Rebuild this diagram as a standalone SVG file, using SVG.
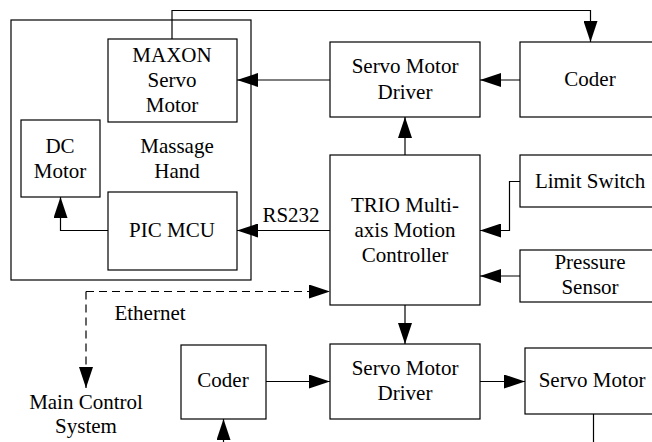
<svg xmlns="http://www.w3.org/2000/svg" width="652" height="442" viewBox="0 0 652 442">
<defs>
<marker id="ah" markerUnits="userSpaceOnUse" markerWidth="22" markerHeight="14" refX="21" refY="7" orient="auto">
<path d="M0,0 L21,7 L0,14 z" fill="#000"/>
</marker>
<style>
rect{fill:#fff;stroke:#000;stroke-width:1.2}
text{font-family:'Liberation Serif','Tinos','Times New Roman','DejaVu Serif',serif;font-size:21px;fill:#000;text-anchor:middle}
.c{fill:none;stroke:#000;stroke-width:1.2}
.a{marker-end:url(#ah)}
.d{stroke-dasharray:8 5}
</style>
</defs>
<rect width="652" height="442" style="fill:#fff;stroke:none"/>
<g id="massage-hand">
<rect x="11" y="20" width="240" height="260"/>
<text x="177" y="153">Massage</text>
<text x="177" y="178">Hand</text>
</g>
<g id="maxon">
<rect x="108" y="39" width="129" height="83"/>
<text x="172" y="62">MAXON</text>
<text x="172" y="87">Servo</text>
<text x="172" y="112">Motor</text>
</g>
<g id="dc-motor">
<rect x="21" y="120" width="79" height="77"/>
<text x="60" y="153">DC</text>
<text x="60" y="178">Motor</text>
</g>
<g id="pic-mcu">
<rect x="108" y="192" width="129" height="78"/>
<text x="172" y="237">PIC MCU</text>
</g>
<g id="driver-top">
<rect x="330" y="42" width="150" height="75"/>
<text x="405" y="73">Servo Motor</text>
<text x="405" y="99">Driver</text>
</g>
<g id="coder-top">
<rect x="520" y="42" width="140" height="75"/>
<text x="590" y="86">Coder</text>
</g>
<g id="trio">
<rect x="330" y="155" width="150" height="150"/>
<text x="405" y="212">TRIO Multi-</text>
<text x="405" y="237">axis Motion</text>
<text x="405" y="262">Controller</text>
</g>
<g id="limit-switch">
<rect x="520" y="155" width="140" height="52"/>
<text x="590" y="188">Limit Switch</text>
</g>
<g id="pressure-sensor">
<rect x="520" y="250" width="140" height="52"/>
<text x="590" y="269">Pressure</text>
<text x="590" y="294">Sensor</text>
</g>
<g id="coder-bottom">
<rect x="181" y="345" width="85" height="74"/>
<text x="223" y="387">Coder</text>
</g>
<g id="driver-bottom">
<rect x="330" y="344" width="150" height="75"/>
<text x="405" y="375">Servo Motor</text>
<text x="405" y="400">Driver</text>
</g>
<g id="servo-motor">
<rect x="525" y="348" width="135" height="66"/>
<text x="592" y="387">Servo Motor</text>
</g>
<g id="main-control">
<text x="86" y="409">Main Control</text>
<text x="86" y="433">System</text>
</g>
<g id="connectors">
<path class="c a" d="M172,39 V10.5 H590.5 V42"/>
<path class="c a" d="M520,80 H480"/>
<path class="c a" d="M330,80 H237"/>
<path class="c a" d="M405,155 V117"/>
<path class="c a" d="M330,230.5 H237"/>
<text x="291" y="222">RS232</text>
<path class="c a" d="M108,230.5 H60.5 V197"/>
<path class="c a" d="M520,181.5 H509.5 V230.5 H480"/>
<path class="c a" d="M520,276 H480"/>
<path class="c a" d="M405,305 V344"/>
<path class="c d a" d="M86,291.5 H330"/>
<path class="c d a" d="M86,291.5 V388"/>
<text x="150" y="320">Ethernet</text>
<path class="c a" d="M266,381.5 H330"/>
<path class="c a" d="M480,381.5 H525"/>
<path class="c a" d="M223.5,442 V419"/>
<path class="c" d="M593.5,414 V442"/>
</g>
</svg>
